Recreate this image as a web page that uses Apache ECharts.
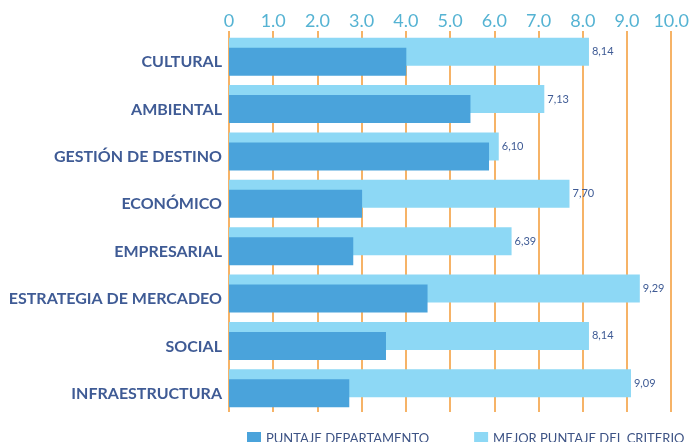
<!DOCTYPE html>
<html>
<head>
<meta charset="utf-8">
<script src="https://cdn.jsdelivr.net/npm/echarts@6/dist/echarts.min.js"></script>
<style>
  html, body { margin: 0; padding: 0; background: #fff; }
  #chart { width: 692px; height: 442px; }
</style>
</head>
<body>
<div id="chart"></div>
<script>
// categorias, de arriba hacia abajo
var categorias = ['CULTURAL', 'AMBIENTAL', 'GESTIÓN DE DESTINO', 'ECONÓMICO', 'EMPRESARIAL', 'ESTRATEGIA DE MERCADEO', 'SOCIAL', 'INFRAESTRUCTURA'];
var puntajeDepartamento = [4.01, 5.46, 5.88, 3.01, 2.81, 4.49, 3.55, 2.72];
var mejorPuntaje = [8.14, 7.13, 6.10, 7.70, 6.39, 9.29, 8.14, 9.09];
var nombres = ['PUNTAJE DEPARTAMENTO', 'MEJOR PUNTAJE DEL CRITERIO'];

var naranja = '#F39A34';
var azulTexto = '#3F5B95';

var myChart = echarts.init(document.getElementById('chart'));
var option = {
    animation: false,
    textStyle: { fontFamily: 'Lato' },
    grid: { left: 229, right: 18, top: 33, bottom: 30 },
    legend: {
        data: nombres,
        left: 242,
        top: 427,
        itemWidth: 14,
        itemHeight: 14,
        itemGap: 45,
        icon: 'rect',
        textStyle: { color: '#3D5385', fontSize: 13, fontFamily: 'Lato' }
    },
    xAxis: {
        type: 'value',
        position: 'top',
        min: 0,
        max: 10,
        interval: 1,
        axisLine: { show: false },
        axisTick: { show: true, length: 2, lineStyle: { color: naranja, width: 1.5 } },
        splitLine: { show: true, lineStyle: { color: naranja, width: 1.5 } },
        axisLabel: {
            color: '#55B3D3',
            fontSize: 18,
            margin: 3,
            formatter: function(v) {
                return v === 0 ? '0' : v.toFixed(1);
            }
        }
    },
    yAxis: {
        type: 'category',
        inverse: true,
        data: categorias,
        axisLine: { show: false },
        axisTick: { show: false },
        axisLabel: {
            color: azulTexto,
            fontSize: 16,
            fontWeight: 'bold',
            margin: 7,
            // alinear con la barra oscura
            verticalAlign: 'top',
            lineHeight: 11
        }
    },
    series: [{
        name: nombres[1],
        type: 'bar',
        data: mejorPuntaje,
        barWidth: 28,
        barGap: '-64.29%',
        itemStyle: { color: '#8DD8F5' },
        label: {
            show: true,
            position: 'right',
            distance: 3,
            color: azulTexto,
            fontSize: 11,
            formatter: function(p) {
                return p.value.toFixed(2).replace('.', ',');
            }
        },
        z: 2
    }, {
        name: nombres[0],
        type: 'bar',
        data: puntajeDepartamento,
        barWidth: 28,
        itemStyle: { color: '#4AA3DB' },
        z: 3
    }]
};
myChart.setOption(option);
</script>
</body>
</html>
